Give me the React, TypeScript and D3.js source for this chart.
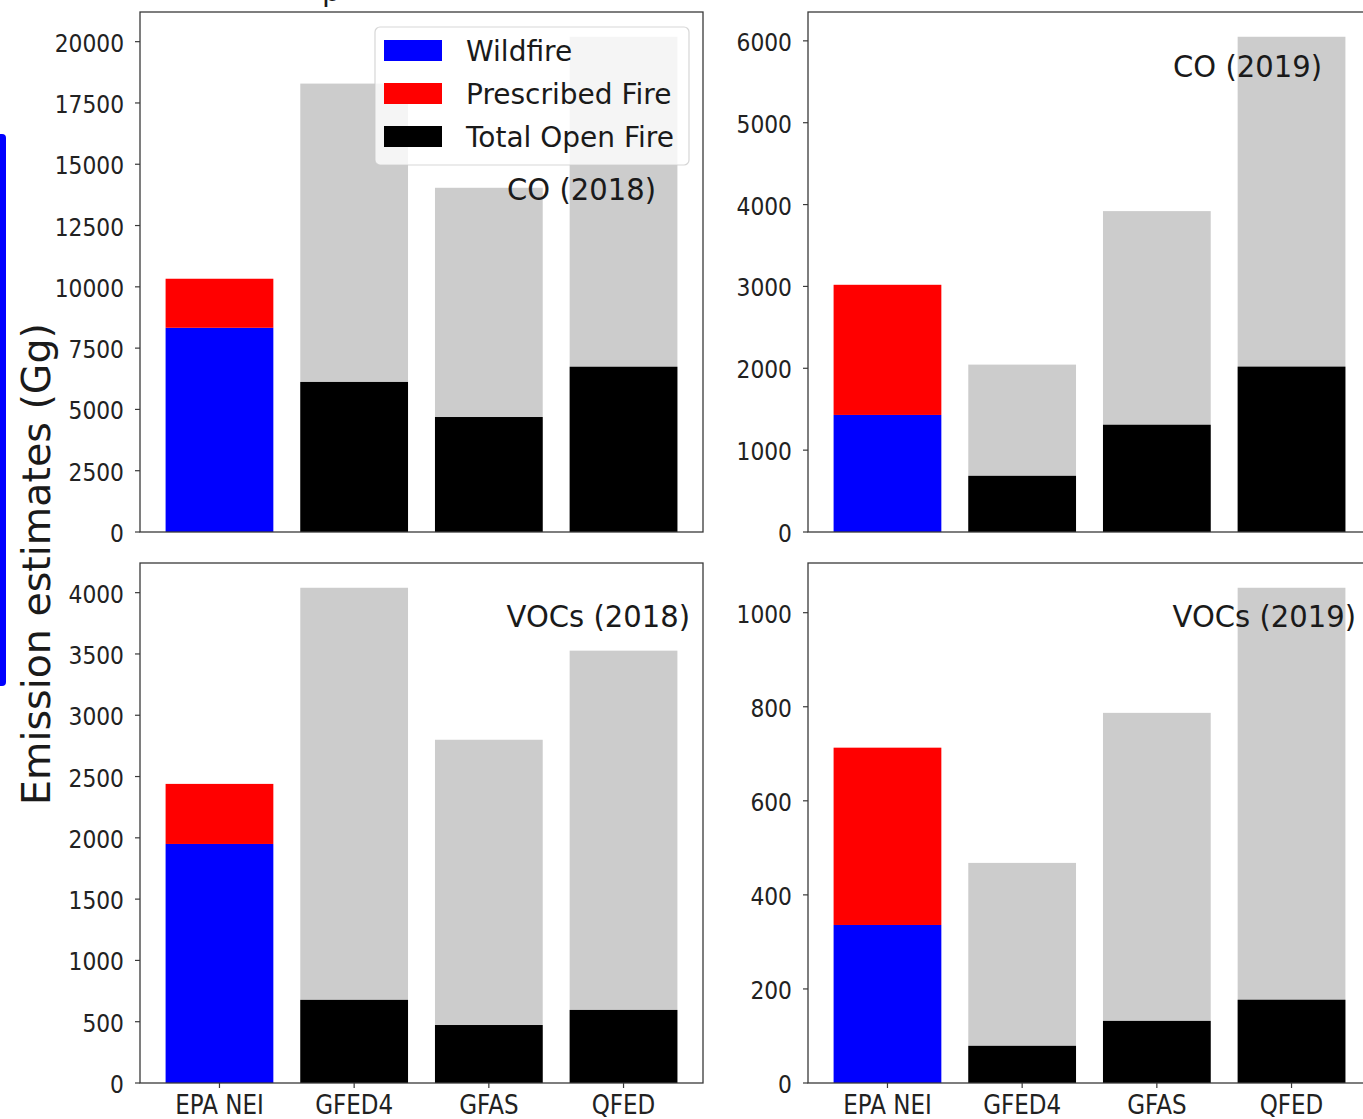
import React from "react";
import * as d3 from "d3";

// ---------- data ----------
const categories = ["EPA NEI", "GFED4", "GFAS", "QFED"];
const seriesNames = ["Wildfire", "Prescribed Fire", "Total Open Fire"];
const seriesColors = ["#0000ff", "#ff0000", "#000000"];
const rangeColor = "#cccccc";

// EPA NEI split per panel: CO 2018, CO 2019, VOCs 2018, VOCs 2019
const epaWildfire = [8330, 1430, 1950, 336];
const epaPrescribed = [2000, 1590, 490, 377];

// satellite inventories (GFED4, GFAS, QFED): upper grey bar and black total
const co2018Upper = [18290, 14040, 20200];
const co2018Total = [6120, 4690, 6740];
const co2019Upper = [2045, 3920, 6050];
const co2019Total = [686, 1310, 2020];
const voc2018Upper = [4040, 2800, 3527];
const voc2018Total = [678, 473, 596];
const voc2019Upper = [468, 787, 1053];
const voc2019Total = [79, 132, 177];

const co2018Ticks = [0, 2500, 5000, 7500, 10000, 12500, 15000, 17500, 20000];
const co2019Ticks = [0, 1000, 2000, 3000, 4000, 5000, 6000];
const voc2018Ticks = [0, 500, 1000, 1500, 2000, 2500, 3000, 3500, 4000];
const voc2019Ticks = [0, 200, 400, 600, 800, 1000];

const panelTitles = ["CO (2018)", "CO (2019)", "VOCs (2018)", "VOCs (2019)"];

// ---------- layout ----------
const W = 1363;
const H = 1119;
const FONT = "DejaVu Sans, sans-serif";

type Panel = {
  idx: number;
  left: number;
  right: number;
  top: number;
  bottom: number;
  upper: number[];
  total: number[];
  ticks: number[];
  showX: boolean;
  titleX: number;
  titleY: number;
};

const panels: Panel[] = [
  { idx: 0, left: 140, right: 703, top: 12, bottom: 532, upper: co2018Upper, total: co2018Total, ticks: co2018Ticks, showX: false, titleX: 656, titleY: 200 },
  { idx: 1, left: 808, right: 1371, top: 12, bottom: 532, upper: co2019Upper, total: co2019Total, ticks: co2019Ticks, showX: false, titleX: 1322, titleY: 77 },
  { idx: 2, left: 140, right: 703, top: 563, bottom: 1083, upper: voc2018Upper, total: voc2018Total, ticks: voc2018Ticks, showX: true, titleX: 690, titleY: 627 },
  { idx: 3, left: 808, right: 1371, top: 563, bottom: 1083, upper: voc2019Upper, total: voc2019Total, ticks: voc2019Ticks, showX: true, titleX: 1356, titleY: 627 },
];

const BAR_W = 0.8;

function PanelView({ p }: { p: Panel }) {
  const epaTotal = epaWildfire[p.idx] + epaPrescribed[p.idx];
  const maxV = Math.max(epaTotal, ...p.upper, ...p.total);
  const y = d3.scaleLinear().domain([0, maxV * 1.05]).range([p.bottom, p.top]);
  const span = categories.length - 1 + BAR_W;
  const x = d3
    .scaleLinear()
    .domain([-BAR_W / 2 - 0.05 * span, categories.length - 1 + BAR_W / 2 + 0.05 * span])
    .range([p.left, p.right]);
  const bw = x(BAR_W) - x(0);
  const sat = categories.slice(1);
  return (
    <g>
      {sat.map((c, i) => (
        <rect key={"u" + c} x={x(i + 1) - bw / 2} y={y(p.upper[i])} width={bw} height={y(0) - y(p.upper[i])} fill={rangeColor} />
      ))}
      {sat.map((c, i) => (
        <rect key={"t" + c} x={x(i + 1) - bw / 2} y={y(p.total[i])} width={bw} height={y(0) - y(p.total[i])} fill={seriesColors[2]} />
      ))}
      <rect x={x(0) - bw / 2} y={y(epaWildfire[p.idx])} width={bw} height={y(0) - y(epaWildfire[p.idx])} fill={seriesColors[0]} />
      <rect x={x(0) - bw / 2} y={y(epaTotal)} width={bw} height={y(epaWildfire[p.idx]) - y(epaTotal)} fill={seriesColors[1]} />

      <text
        transform={`translate(${p.titleX},${p.titleY}) scale(0.985,1)`}
        textAnchor="end"
        fontSize={29.5}
        fontFamily={FONT}
        fill="#1a1a1a"
      >
        {panelTitles[p.idx]}
      </text>

      <rect x={p.left} y={p.top} width={p.right - p.left} height={p.bottom - p.top} fill="none" stroke="#3a3a3a" strokeWidth={1.3} />

      {p.ticks.map((t) => (
        <g key={"yt" + t}>
          <line x1={p.left - 5} x2={p.left} y1={y(t)} y2={y(t)} stroke="#3a3a3a" strokeWidth={1.2} />
          <text
            transform={`translate(${p.left - 16},${y(t) + 10}) scale(0.89,1)`}
            textAnchor="end"
            fontSize={24.5}
            fontFamily={FONT}
            fill="#222"
          >
            {t}
          </text>
        </g>
      ))}

      {p.showX &&
        categories.map((c, i) => (
          <g key={"xt" + c}>
            <line x1={x(i)} x2={x(i)} y1={p.bottom} y2={p.bottom + 5} stroke="#3a3a3a" strokeWidth={1.2} />
            <text transform={`translate(${x(i)},${p.bottom + 31}) scale(0.885,1)`} textAnchor="middle" fontSize={26} fontFamily={FONT} fill="#222">
              {c}
            </text>
          </g>
        ))}
    </g>
  );
}

function Legend() {
  const lx = 375;
  const ly = 27;
  const lw = 314;
  const lh = 138;
  const rowY = [50.5, 93.5, 136.5];
  return (
    <g>
      <rect x={lx} y={ly} width={lw} height={lh} rx={5} fill="#ffffff" fillOpacity={0.8} stroke="#cccccc" strokeOpacity={0.8} strokeWidth={1.2} />
      {seriesNames.map((s, i) => (
        <g key={s}>
          <rect x={384} y={rowY[i] - 10.5} width={58} height={21} fill={seriesColors[i]} />
          <text x={466} y={rowY[i] + 10} fontSize={28} fontFamily={FONT} fill="#1a1a1a">
            {s}
          </text>
        </g>
      ))}
    </g>
  );
}

export default function App() {
  return (
    <svg width={W} height={H} style={{ position: "absolute", left: 0, top: 0, overflow: "hidden", background: "#fff" }}>
      <rect x={0} y={0} width={W} height={H} fill="#fff" />
      {/* remnant of a title cut off above the picture, as in the reference */}
      <text x={322} y={1} fontSize={29} fontFamily={FONT} fill="#1a1a1a">p</text>
      <rect x={-8} y={134} width={14} height={552} rx={4} fill="#0000ff" />
      {panels.map((p) => (
        <PanelView key={p.idx} p={p} />
      ))}
      <Legend />
      <text transform={`translate(50,564) rotate(-90)`} textAnchor="middle" fontSize={39.5} fontFamily={FONT} fill="#1a1a1a">
        Emission estimates (Gg)
      </text>
    </svg>
  );
}
